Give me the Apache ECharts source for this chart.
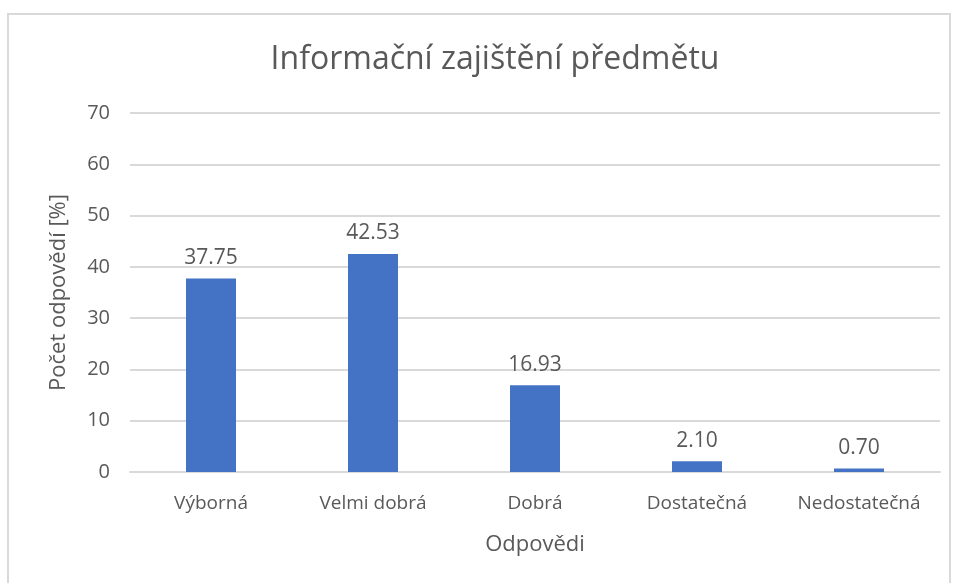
<!DOCTYPE html>
<html>
<head>
<meta charset="utf-8">
<script src="https://cdn.jsdelivr.net/npm/echarts@6/dist/echarts.min.js"></script>
<style>
  html, body { margin: 0; padding: 0; background: #fff; }
  #chart { width: 953px; height: 583px; }
</style>
</head>
<body>
<div id="chart"></div>
<script>
const categories = ['Výborná', 'Velmi dobrá', 'Dobrá', 'Dostatečná', 'Nedostatečná']
const values = [37.75, 42.53, 16.93, 2.10, 0.70]

const textColor = '#595959'
const font = 'Open Sans'

const chart = echarts.init(document.getElementById('chart'))
chart.setOption({
  animation: false,
  textStyle: { fontFamily: font },
  graphic: [{
    type: 'rect',
    shape: { x: 8, y: 14, width: 942, height: 600 },
    style: { fill: 'none', stroke: '#d9d9d9', lineWidth: 2 },
    silent: true
  }],
  title: {
    text: 'Informační zajištění předmětu',
    left: 490,
    top: 39,
    textAlign: 'center',
    textStyle: { color: textColor, fontSize: 32, fontWeight: 'normal', fontFamily: font }
  },
  grid: { left: 130, right: 13, top: 113, bottom: 111 },
  xAxis: {
    type: 'category',
    data: categories,
    name: 'Odpovědi',
    nameLocation: 'middle',
    nameGap: 62,
    nameTextStyle: { color: textColor, fontSize: 22, fontFamily: font },
    axisLine: { lineStyle: { color: '#d9d9d9', width: 2 } },
    axisTick: { show: false },
    axisLabel: { color: textColor, fontSize: 19, margin: 22, interval: 0, fontFamily: font }
  },
  yAxis: {
    type: 'value',
    min: 0,
    max: 70,
    interval: 10,
    name: 'Počet odpovědí [%]',
    nameLocation: 'middle',
    nameGap: 60,
    nameTextStyle: { color: textColor, fontSize: 22, fontFamily: font },
    axisLine: { show: false },
    axisTick: { show: false },
    axisLabel: { color: textColor, fontSize: 20, margin: 20, fontFamily: font },
    splitLine: { lineStyle: { color: '#d9d9d9', width: 2 } }
  },
  series: [{
    type: 'bar',
    data: values,
    barWidth: 50,
    itemStyle: { color: '#4472c4' },
    label: {
      show: true,
      position: 'top',
      distance: 10,
      color: textColor,
      fontSize: 21,
      fontFamily: font,
      formatter: p => p.value.toFixed(2)
    }
  }]
})
</script>
</body>
</html>
